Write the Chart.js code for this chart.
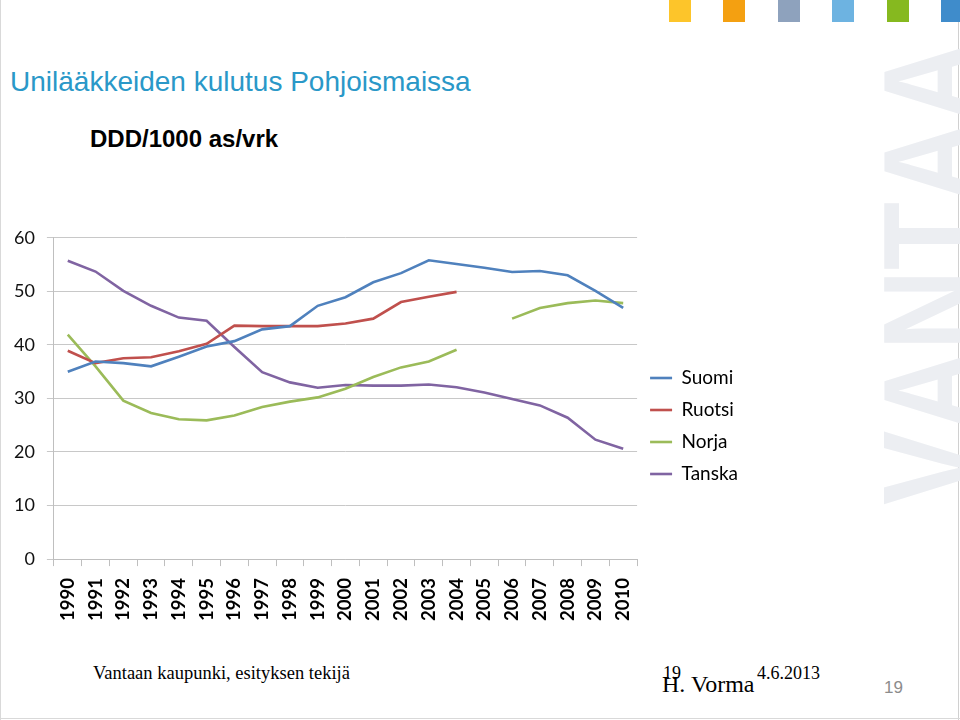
<!DOCTYPE html>
<html>
<head>
<meta charset="utf-8">
<script src="https://cdn.jsdelivr.net/npm/chart.js@4"></script>
<style>
  html, body { margin: 0; padding: 0; background: #fff; }
  #page { position: relative; width: 960px; height: 720px; overflow: hidden; background: #fff; }
  .sq { position: absolute; top: 0; width: 22px; height: 22px; }
  .frameL { position: absolute; left: 0; top: 0; width: 1px; height: 720px; background: #d9d9d9; }
  .frameR { position: absolute; left: 958px; top: 22px; width: 1px; height: 698px; background: #d0d0d0; }
  .frameB { position: absolute; left: 0; top: 718px; width: 960px; height: 1px; background: #d9d9d9; }
  #title { position: absolute; left: 10px; top: 66px; font: 28px "Liberation Sans", Arial, sans-serif; color: #2a98c8; white-space: nowrap; }
  #sub { position: absolute; left: 90px; top: 125px; font: bold 24px "Liberation Sans", Arial, sans-serif; color: #000; white-space: nowrap; }
  #wm { position: absolute; left: 864px; top: 505px; transform-origin: 0 0; transform: rotate(-90deg) scaleX(0.85);
        font: bold 131px "Liberation Sans", Arial, sans-serif; font-kerning: none; color: #eceef2; white-space: nowrap; line-height: 1; }
  .ft { position: absolute; font-family: "Liberation Serif", "Times New Roman", serif; color: #000; white-space: nowrap; line-height: 1; }
  #chartbox { position: absolute; left: 0; top: 215px; width: 760px; height: 418px; }
</style>
</head>
<body>
<div id="page">
  <div class="frameL"></div><div class="frameR"></div><div class="frameB"></div>
  <div class="sq" style="left:669px;background:#fdc52a"></div>
  <div class="sq" style="left:723px;background:#f4a011"></div>
  <div class="sq" style="left:778px;background:#8ea2bd"></div>
  <div class="sq" style="left:832px;background:#6db3e1"></div>
  <div class="sq" style="left:887px;background:#86b91f"></div>
  <div class="sq" style="left:941px;width:19px;background:#3f8ccb"></div>
  <div id="wm">VANTAA</div>
  <div id="title">Unilääkkeiden kulutus Pohjoismaissa</div>
  <div id="sub">DDD/1000 as/vrk</div>
  <div class="ft" style="left:93px;top:664px;font-size:18.5px;">Vantaan kaupunki, esityksen tekijä</div>
  <div class="ft" style="left:663px;top:664px;font-size:18px;">19</div>
  <div class="ft" style="left:662px;top:672px;font-size:24px;">H. Vorma</div>
  <div class="ft" style="left:757px;top:664px;font-size:18px;">4.6.2013</div>
  <div style="position:absolute;left:884px;top:678px;font:17px 'Liberation Sans Narrow','Liberation Sans',sans-serif;color:#8c8c8c;">19</div>
  <div id="chartbox"><canvas id="c"></canvas></div>
</div>
<script>
const years = ["1990","1991","1992","1993","1994","1995","1996","1997","1998","1999","2000",
               "2001","2002","2003","2004","2005","2006","2007","2008","2009","2010"];
const suomi  = [35.0,36.9,36.6,36.0,37.8,39.7,40.7,42.9,43.5,47.3,48.9,51.7,53.4,55.8,55.1,54.4,53.6,53.8,53.0,50.1,46.9];
const ruotsi = [38.9,36.6,37.5,37.7,38.8,40.2,43.6,43.5,43.5,43.5,44.0,44.9,48.0,49.0,49.9,null,null,null,null,null,null];
const norja  = [41.9,36.0,29.6,27.3,26.1,25.9,26.8,28.4,29.4,30.2,31.8,34.0,35.8,36.9,39.1,null,44.9,46.9,47.8,48.3,47.8];
const tanska = [55.7,53.7,50.1,47.3,45.1,44.5,39.6,34.9,33.0,32.0,32.5,32.4,32.4,32.6,32.1,31.1,29.9,28.7,26.4,22.3,20.6];
const yTicks = [0,10,20,30,40,50,60];
const seriesNames = ["Suomi","Ruotsi","Norja","Tanska"];
const seriesColors = ["#4f81bd","#c0504d","#9bbb59","#8064a2"];

const seriesData = [suomi, ruotsi, norja, tanska];
const datasets = seriesNames.map((n, i) => ({
  label: n,
  data: seriesData[i],
  borderColor: seriesColors[i],
  backgroundColor: seriesColors[i],
  borderWidth: 2.6,
  pointRadius: 0,
  pointHoverRadius: 0,
  tension: 0,
  spanGaps: false,
  fill: false
}));

new Chart(document.getElementById('c'), {
  type: 'line',
  data: { labels: years, datasets },
  options: {
    responsive: true,
    maintainAspectRatio: false,
    animation: false,
    layout: { padding: { left: 2, top: 4, right: 12, bottom: 0 } },
    plugins: {
      tooltip: { enabled: false },
      legend: {
        position: 'right',
        align: 'center',
        labels: {
          usePointStyle: true,
          pointStyle: 'line',
          pointStyleWidth: 22,
          boxHeight: 19,
          padding: 13,
          color: '#000',
          font: { family: 'Lato, "Open Sans", sans-serif', size: 19 }
        }
      }
    },
    scales: {
      x: {
        type: 'category',
        offset: true,
        grid: { display: true, offset: true, drawOnChartArea: false, drawTicks: true, tickLength: 7, color: '#bfbfbf' },
        border: { display: true, color: '#bfbfbf' },
        ticks: {
          autoSkip: false, maxRotation: 90, minRotation: 90, padding: 12,
          color: '#000',
          font: { family: 'Lato, "Open Sans", sans-serif', size: 18.5, weight: 'bold' }
        }
      },
      y: {
        min: 0, max: 60,
        afterBuildTicks: (s) => { s.ticks = yTicks.map(v => ({ value: v })); },
        grid: { color: '#c8c8c8', tickLength: 7, drawTicks: true },
        border: { display: true, color: '#bfbfbf' },
        ticks: {
          padding: 12, color: '#111',
          font: { family: 'Lato, "Open Sans", sans-serif', size: 18 }
        }
      }
    }
  }
});
</script>
</body>
</html>
